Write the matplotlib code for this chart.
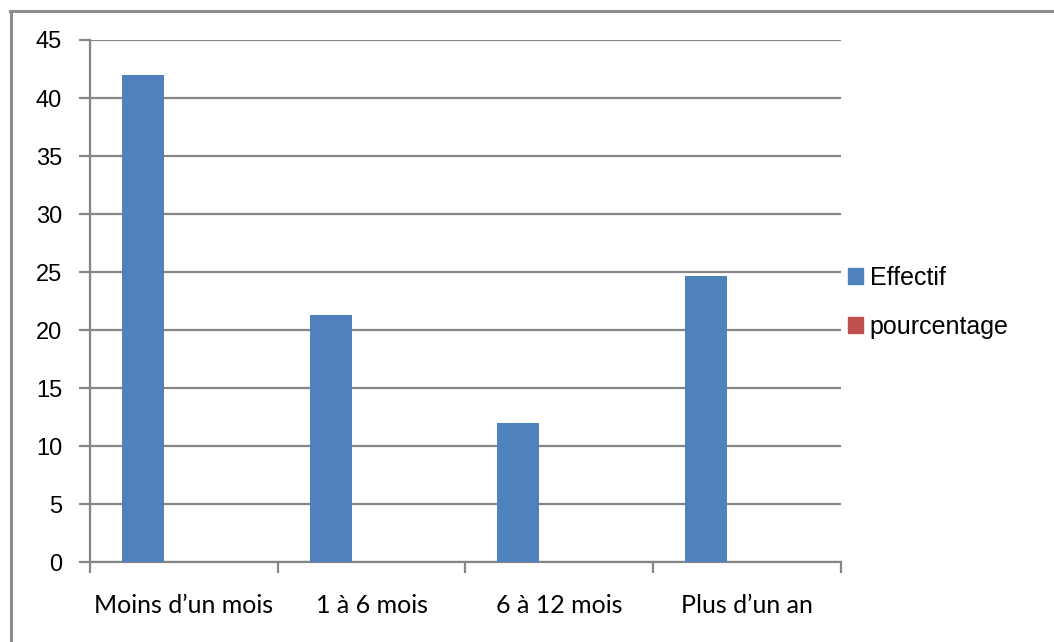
import matplotlib
matplotlib.use("Agg")
import matplotlib.pyplot as plt
import matplotlib.patches as mpatches
from matplotlib.lines import Line2D
import numpy as np

categories = ["Moins d\u2019un mois", "1 \u00e0 6 mois", "6 \u00e0 12 mois", "Plus d\u2019un an"]
effectif = [42, 21.3, 12, 24.7]
pourcentage = [0, 0, 0, 0]
series_names = ["Effectif", "pourcentage"]
y_ticks = [0, 5, 10, 15, 20, 25, 30, 35, 40, 45]

blue = "#4F81BD"
red = "#C0504D"
grid_grey = "#868686"

fig = plt.figure(figsize=(10.54, 6.42), dpi=100)
ax = fig.add_axes([0.0854, 0.1241, 0.7122, 0.8136])

x = np.arange(len(categories))
bar_w = 0.224
offset = 0.217
ax.bar(x - offset, effectif, width=bar_w, color=blue, zorder=3)
ax.bar(x + offset, pourcentage, width=bar_w, color=red, zorder=3)

ax.set_xlim(-0.5, len(categories) - 0.5)
ax.set_ylim(0, 45)

# horizontal gridlines, drawn like Excel's major gridlines
ax.set_yticks(y_ticks)
ax.set_yticklabels([str(v) for v in y_ticks], fontsize=17,
                   fontfamily="Liberation Sans")
ax.yaxis.grid(True, color=grid_grey, linewidth=1.6)
ax.set_axisbelow(True)
ax.tick_params(axis="y", length=8, width=1.6, color=grid_grey, pad=12)

# category ticks sit on the boundaries between groups
ax.set_xticks(np.arange(len(categories) + 1) - 0.5)
ax.set_xticklabels([])
ax.set_xticks(x, minor=True)
ax.set_xticklabels(categories, minor=True, fontsize=18, fontfamily="Lato")
ax.tick_params(axis="x", which="major", length=8, width=1.6, color=grid_grey,
               direction="out")
ax.tick_params(axis="x", which="minor", length=0, pad=23)

for side in ["top", "right"]:
    ax.spines[side].set_visible(False)
for side in ["left", "bottom"]:
    ax.spines[side].set_color(grid_grey)
    ax.spines[side].set_linewidth(1.6)

handles = [mpatches.Patch(color=blue), mpatches.Patch(color=red)]
ax.legend(handles, series_names, loc="center left",
          bbox_to_anchor=(0.997, 0.497), frameon=False,
          prop={"family": "Liberation Sans", "size": 18},
          handlelength=0.6, handleheight=0.6, handletextpad=0.25,
          labelspacing=1.0, borderaxespad=0)

# chart area outline
fig.add_artist(Line2D([10 / 1054, 1.0], [1 - 10.5 / 642, 1 - 10.5 / 642],
                      color="#8C8C8C", linewidth=2.2, transform=fig.transFigure))
fig.add_artist(Line2D([10.5 / 1054, 10.5 / 1054], [0.0, 1 - 10.5 / 642],
                      color="#8C8C8C", linewidth=2.2, transform=fig.transFigure))

fig.savefig("out.png", dpi=100)
